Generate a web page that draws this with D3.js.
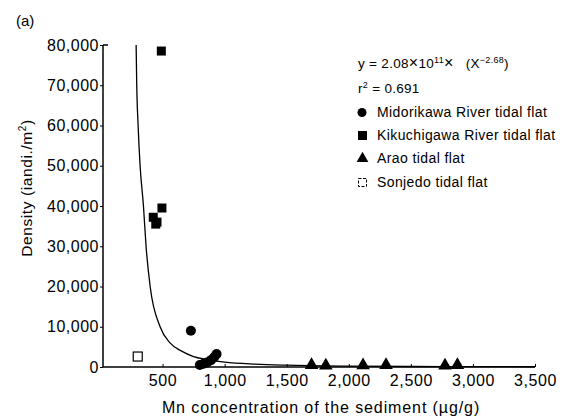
<!DOCTYPE html>
<html><head><meta charset="utf-8">
<script src="https://cdn.jsdelivr.net/npm/d3@7"></script>
<style>body{margin:0;background:#fff}svg{display:block;font-family:"Liberation Sans",Arial,sans-serif}</style>
</head><body><svg id="c" width="575" height="419"></svg>
<script>
// Data
const midorikawa = [[728,9000],[800,500],[830,800],[860,1100],[890,1700],[915,2400],[935,3200]];
const kikuchigawa = [[490,78500],[425,37200],[445,35500],[455,36000],[495,39500]];
const arao = [[1700,450],[1815,350],[2115,400],[2300,450],[2775,350],[2875,450]];
const sonjedo = [[300,2600]];
const fitX = [287,292,303,319,346,367,400,480,560,650,750,850,1000,1250,1500,2000,2500,3000,3500];
const fitY = [80000,70000,60000,50000,40000,30000,20000,10000,6000,4000,2600,1900,1200,700,450,220,130,90,60];
const xTicks = [500,1000,1500,2000,2500,3000,3500];
const yTicks = [0,10000,20000,30000,40000,50000,60000,70000,80000];
const legendItems = ["Midorikawa River tidal flat","Kikuchigawa River tidal flat","Arao tidal flat","Sonjedo tidal flat"];

const svg = d3.select("#c");
const x = d3.scaleLinear().domain([0,3500]).range([100.5,535]);
const y = d3.scaleLinear().domain([0,80000]).range([367,45]);
const x0 = 103;
const fmt = d3.format(",");

// axes lines
svg.append("line").attr("x1",x0).attr("x2",x0).attr("y1",y(80000)).attr("y2",y(0)).attr("stroke","#000").attr("stroke-width",1.5);
svg.append("line").attr("x1",x0).attr("x2",x(3500)).attr("y1",y(0)).attr("y2",y(0)).attr("stroke","#000").attr("stroke-width",1.5);

const yAxis = d3.axisLeft(y).tickValues(yTicks).tickFormat(fmt).tickSize(3).tickPadding(1);
const gy = svg.append("g").attr("transform",`translate(${x0},0)`).call(yAxis);
gy.select(".domain").remove();
gy.selectAll("text").attr("font-size",16).attr("letter-spacing",0.5).attr("fill","#000").attr("font-family","Liberation Sans, Arial, sans-serif");
gy.selectAll("line").attr("stroke","#000");
svg.append("line").attr("x1",x0).attr("x2",x0+5).attr("y1",y(80000)).attr("y2",y(80000)).attr("stroke","#000").attr("stroke-width",1.5);

const xAxis = d3.axisBottom(x).tickValues(xTicks).tickFormat(fmt).tickSizeInner(-3).tickSizeOuter(0).tickPadding(8);
const gx = svg.append("g").attr("transform",`translate(0,${y(0)})`).call(xAxis);
gx.select(".domain").remove();
gx.selectAll("text").attr("font-size",16).attr("letter-spacing",0.6).attr("fill","#000").attr("font-family","Liberation Sans, Arial, sans-serif");
gx.selectAll("line").attr("stroke","#000");

// fit curve
const line = d3.line().x((d,i)=>x(fitX[i])).y((d,i)=>y(fitY[i])).curve(d3.curveMonotoneX);
svg.append("path").attr("d",line(fitX)).attr("fill","none").attr("stroke","#000").attr("stroke-width",1.3);

// markers
svg.selectAll(".mid").data(midorikawa).join("circle").attr("cx",d=>x(d[0])).attr("cy",d=>y(d[1])).attr("r",5).attr("fill","#000");
svg.selectAll(".kik").data(kikuchigawa).join("rect").attr("x",d=>x(d[0])-4.5).attr("y",d=>y(d[1])-4.5).attr("width",9).attr("height",9).attr("fill","#000");
const tri = d3.symbol().type(d3.symbolTriangle).size(80);
svg.selectAll(".ara").data(arao).join("path").attr("d",tri).attr("transform",d=>`translate(${x(d[0])},${y(d[1])})`).attr("fill","#000");
svg.selectAll(".son").data(sonjedo).join("rect").attr("x",d=>x(d[0])-4.5).attr("y",d=>y(d[1])-4.5).attr("width",9).attr("height",9).attr("fill","#fff").attr("stroke","#000").attr("stroke-width",1.2);

// panel label and axis titles
svg.append("text").attr("x",16).attr("y",26).attr("font-size",15).text("(a)");
svg.append("text").attr("x",321).attr("y",413).attr("text-anchor","middle").attr("font-size",16).attr("letter-spacing",0.9).text("Mn concentration of the sediment (\u00b5g/g)");
const yt = svg.append("text").attr("transform","translate(32,188) rotate(-90)").attr("text-anchor","middle").attr("font-size",15.5).attr("letter-spacing",0.6);
yt.append("tspan").text("Density (iandi./m");
yt.append("tspan").attr("font-size",10).attr("dy",-6).text("2");
yt.append("tspan").attr("dy",6).text(")");

// legend
const lx = 358, lt = 377;
const eq = svg.append("text").attr("x",lx).attr("y",68).attr("font-size",13.5).attr("letter-spacing",0.3);
eq.append("tspan").text("y = 2.08");
eq.append("tspan").attr("font-size",16).text("\u00d7");
eq.append("tspan").text("10");
eq.append("tspan").attr("font-size",9).attr("dy",-5).text("11");
eq.append("tspan").attr("font-size",16).attr("dy",5).text("\u00d7");
eq.append("tspan").attr("dx",12).text("(X");
eq.append("tspan").attr("font-size",9).attr("dy",-5).text("\u22122.68");
eq.append("tspan").attr("dy",5).text(")");
const r2 = svg.append("text").attr("x",lx).attr("y",93).attr("font-size",13.5).attr("letter-spacing",0.3);
r2.append("tspan").text("r");
r2.append("tspan").attr("font-size",9).attr("dy",-5).text("2");
r2.append("tspan").attr("dy",5).text(" = 0.691");

const ly = [117,140,163,187];
legendItems.forEach((t,i)=>{
  svg.append("text").attr("x",lt).attr("y",ly[i]).attr("font-size",14).attr("letter-spacing",0.4).text(t);
  const cy = ly[i]-4.5;
  if(i===0) svg.append("circle").attr("cx",lx+4).attr("cy",cy).attr("r",4.5).attr("fill","#000");
  if(i===1) svg.append("rect").attr("x",lx).attr("y",cy-4.5).attr("width",9).attr("height",9).attr("fill","#000");
  if(i===2) svg.append("path").attr("d",d3.symbol().type(d3.symbolTriangle).size(60)).attr("transform",`translate(${lx+4.5},${cy})`).attr("fill","#000");
  if(i===3) svg.append("rect").attr("x",lx+0.5).attr("y",cy-4).attr("width",8).attr("height",8).attr("fill","#fff").attr("stroke","#000").attr("stroke-width",1).attr("stroke-dasharray","3,1.5");
});
</script></body></html>
